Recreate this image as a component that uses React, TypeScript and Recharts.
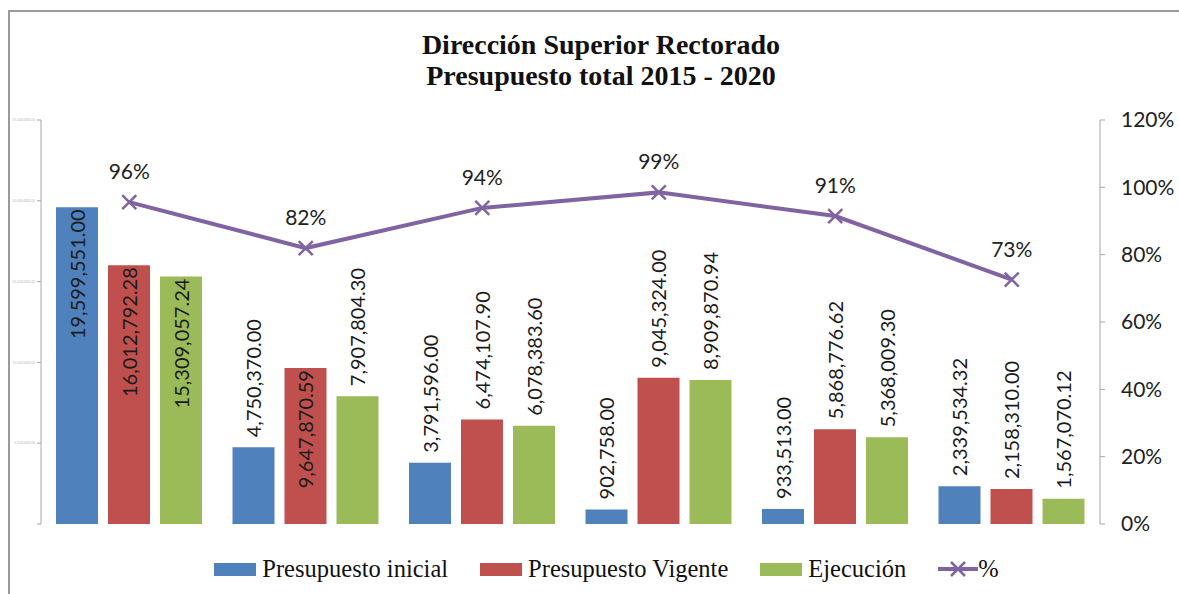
import { Bar, ComposedChart, LabelList, Legend, Line, XAxis, YAxis } from 'recharts';

const years = ['2015', '2016', '2017', '2018', '2019', '2020'];
const presupuestoInicial = [19599551.0, 4750370.0, 3791596.0, 902758.0, 933513.0, 2339534.32];
const presupuestoVigente = [16012792.28, 9647870.59, 6474107.9, 9045324.0, 5868776.62, 2158310.0];
const ejecucion = [15309057.24, 7907804.3, 6078383.6, 8909870.94, 5368009.3, 1567070.12];
const porcentaje = [0.9561, 0.8196, 0.9389, 0.985, 0.9147, 0.7261];
const leftTicks = [0, 5000000, 10000000, 15000000, 20000000, 25000000];
const rightTicks = [0, 0.2, 0.4, 0.6, 0.8, 1, 1.2];

const data = years.map((year, i) => ({
  year,
  inicial: presupuestoInicial[i],
  vigente: presupuestoVigente[i],
  ejecucion: ejecucion[i],
  pct: porcentaje[i],
}));

const BLUE = '#4F81BD';
const RED = '#C0504D';
const GREEN = '#9BBB59';
const PURPLE = '#8064A2';
const SANS = 'Lato, "Open Sans", sans-serif';
const SERIF = '"Liberation Serif", "DejaVu Serif", serif';

const money = (v: number) =>
  v === 0 ? '-' : v.toLocaleString('en-US', { minimumFractionDigits: 2, maximumFractionDigits: 2 });

// Excel puts the label outside end, but tall bars get it inside end
function ValueLabel(props: any) {
  const vb = props.viewBox ?? props;
  const { x, y, width, height } = vb;
  const cx = x + width / 2;
  const inside = height > 150;
  const ty = inside ? y + 2 : y - 10;
  return (
    <text
      x={cx}
      y={ty}
      transform={`rotate(-90 ${cx} ${ty})`}
      textAnchor={inside ? 'end' : 'start'}
      dominantBaseline="central"
      fontFamily={SANS}
      fontSize={20}
      fill="#1a1a1a"
    >
      {money(Number(props.value))}
    </text>
  );
}

function CrossDot({ cx, cy }: { cx?: number; cy?: number }) {
  if (cx == null || cy == null) return null;
  const s = 7;
  return (
    <path
      d={`M${cx - s},${cy - s}L${cx + s},${cy + s}M${cx - s},${cy + s}L${cx + s},${cy - s}`}
      stroke={PURPLE}
      strokeWidth={2.5}
      fill="none"
    />
  );
}

function PctLabel(props: any) {
  const { x, y, value } = props;
  return (
    <text x={x} y={y - 23} textAnchor="middle" fontFamily={SANS} fontSize={21} fill="#222">
      {`${Math.round(Number(value) * 100)}%`}
    </text>
  );
}

const legendItems = [
  { label: 'Presupuesto inicial', color: BLUE },
  { label: 'Presupuesto Vigente', color: RED },
  { label: 'Ejecución', color: GREEN },
];

function LegendBox() {
  return (
    <div
      style={{
        height: 30,
        display: 'flex',
        alignItems: 'center',
        justifyContent: 'center',
        paddingLeft: 34,
        fontFamily: SERIF,
        fontSize: 24.5,
        color: '#111',
      }}
    >
      {legendItems.map((it) => (
        <div key={it.label} style={{ display: 'flex', alignItems: 'center', marginRight: 32 }}>
          <span style={{ width: 42, height: 13, background: it.color, marginRight: 6 }} />
          <span>{it.label}</span>
        </div>
      ))}
      <div style={{ display: 'flex', alignItems: 'center' }}>
        <svg width={40} height={16}>
          <line x1={0} y1={8} x2={40} y2={8} stroke={PURPLE} strokeWidth={4} />
          <path d="M13,1L27,15M13,15L27,1" stroke={PURPLE} strokeWidth={2.5} />
        </svg>
        <span>%</span>
      </div>
    </div>
  );
}

export default function App() {
  return (
    <div style={{ position: 'absolute', left: 0, top: 0, width: 1179, height: 594, background: '#fff' }}>
      <div
        style={{
          position: 'absolute',
          left: 8,
          top: 10,
          right: 0,
          bottom: 0,
          borderTop: '2px solid #9a9a9a',
          borderLeft: '2px solid #9a9a9a',
        }}
      />
      <div
        style={{
          position: 'absolute',
          left: 0,
          top: 29,
          width: 1202,
          textAlign: 'center',
          fontFamily: SERIF,
          fontWeight: 'bold',
          fontSize: 28,
          lineHeight: '31px',
          color: '#111',
        }}
      >
        <div>Dirección Superior Rectorado</div>
        <div>Presupuesto total 2015 - 2020</div>
      </div>
      <ComposedChart
        width={1179}
        height={594}
        data={data}
        margin={{ top: 120, right: 0, left: 0, bottom: 40 }}
        barSize={42}
        barGap={10}
        style={{ position: 'absolute', left: 0, top: 0 }}
      >
        <XAxis dataKey="year" hide />
        <YAxis
          yAxisId="left"
          width={41}
          domain={[0, 25000000]}
          ticks={leftTicks}
          tickFormatter={money}
          axisLine={{ stroke: '#a6a6a6' }}
          tickLine={{ stroke: '#a6a6a6' }}
          tickSize={4}
          tick={{ fill: '#bbb', fontSize: 3.5, fontFamily: SANS }}
        />
        <YAxis
          yAxisId="right"
          orientation="right"
          width={79}
          domain={[0, 1.2]}
          ticks={rightTicks}
          tickFormatter={(v: number) => `${Math.round(v * 100)}%`}
          axisLine={{ stroke: '#a6a6a6' }}
          tickLine={{ stroke: '#a6a6a6' }}
          tickSize={5}
          tickMargin={16}
          tick={{ fill: '#222', fontSize: 21, fontFamily: SANS }}
        />
        <Legend verticalAlign="bottom" wrapperStyle={{ top: 554 }} content={() => <LegendBox />} />
        <Bar yAxisId="left" dataKey="inicial" fill={BLUE} isAnimationActive={false}>
          <LabelList dataKey="inicial" content={ValueLabel} />
        </Bar>
        <Bar yAxisId="left" dataKey="vigente" fill={RED} isAnimationActive={false}>
          <LabelList dataKey="vigente" content={ValueLabel} />
        </Bar>
        <Bar yAxisId="left" dataKey="ejecucion" fill={GREEN} isAnimationActive={false}>
          <LabelList dataKey="ejecucion" content={ValueLabel} />
        </Bar>
        <Line
          yAxisId="right"
          dataKey="pct"
          type="linear"
          stroke={PURPLE}
          strokeWidth={4}
          dot={<CrossDot />}
          activeDot={false}
          isAnimationActive={false}
        >
          <LabelList dataKey="pct" content={PctLabel} />
        </Line>
      </ComposedChart>
    </div>
  );
}
